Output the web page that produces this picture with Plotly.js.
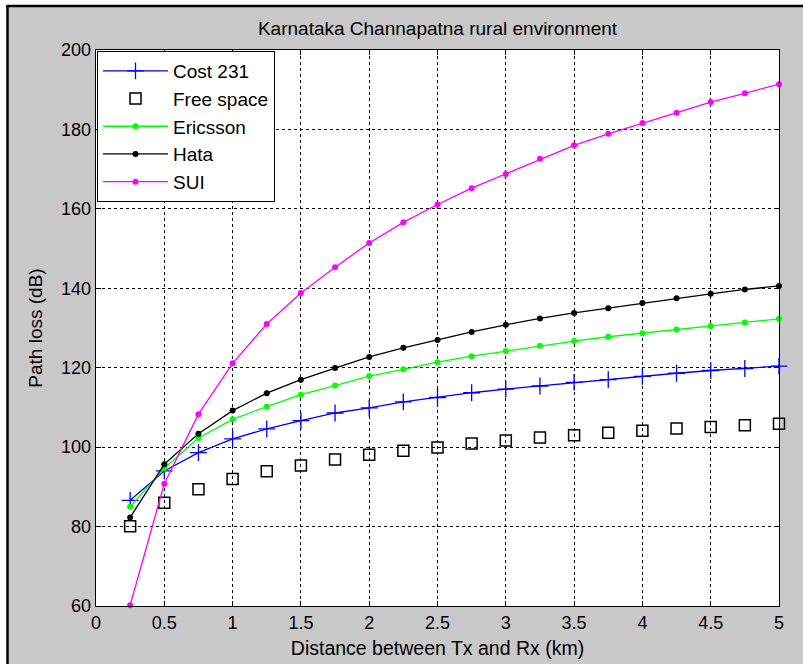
<!DOCTYPE html>
<html>
<head>
<meta charset="utf-8">
<script src="https://cdn.plot.ly/plotly-3.0.1.min.js"></script>
<style>
html, body { margin: 0; padding: 0; background: #ffffff; }
#chart { width: 803px; height: 664px; }
</style>
</head>
<body>
<div id="chart"></div>
<script>
// Distance (km)
var dist = [0.25, 0.5, 0.75, 1, 1.25, 1.5, 1.75, 2, 2.25, 2.5, 2.75, 3, 3.25, 3.5, 3.75, 4, 4.25, 4.5, 4.75, 5];
// Path loss (dB) per model
var cost231   = [86.6, 94.0, 98.6, 102.1, 104.6, 106.7, 108.6, 109.9, 111.4, 112.5, 113.7, 114.6, 115.4, 116.3, 117.0, 117.8, 118.6, 119.3, 119.8, 120.4];
var freeSpace = [80.1, 86.0, 89.4, 92.0, 93.9, 95.4, 96.9, 98.1, 99.1, 99.9, 100.9, 101.7, 102.4, 103.0, 103.6, 104.1, 104.7, 105.1, 105.5, 105.9];
var ericsson  = [85.0, 94.7, 102.3, 107.0, 110.2, 113.2, 115.5, 117.9, 119.6, 121.4, 122.9, 124.2, 125.5, 126.7, 127.8, 128.7, 129.6, 130.5, 131.4, 132.3];
var hata      = [82.3, 95.7, 103.4, 109.2, 113.6, 117.0, 119.9, 122.7, 125.0, 127.0, 129.0, 130.8, 132.4, 133.8, 135.0, 136.3, 137.5, 138.6, 139.7, 140.6];
var sui       = [60.2, 90.8, 108.3, 121.1, 131.0, 138.8, 145.3, 151.4, 156.6, 161.1, 165.2, 168.8, 172.6, 176.0, 178.9, 181.6, 184.2, 186.9, 189.1, 191.4];

var seriesNames = ["Cost 231", "Free space", "Ericsson", "Hata", "SUI"];
var xTicks = [0, 0.5, 1, 1.5, 2, 2.5, 3, 3.5, 4, 4.5, 5];
var yTicks = [60, 80, 100, 120, 140, 160, 180, 200];

var W = 803, H = 664, ML = 96, MR = 24, MT = 50, MB = 58;
var PW = W - ML - MR, PH = H - MT - MB;
function px(x) { return (x - ML) / PW; }
function py(y) { return (H - MB - y) / PH; }

var FONT = "Liberation Sans, Arial, sans-serif";

var traces = [
  { x: dist, y: cost231, name: seriesNames[0], type: "scatter", mode: "lines+markers",
    line: { color: "#0000ff", width: 1.3 },
    marker: { symbol: "cross-thin", size: 12, color: "#0000ff", line: { color: "#0000ff", width: 1.3 } },
    cliponaxis: false },
  { x: dist, y: freeSpace, name: seriesNames[1], type: "scatter", mode: "markers",
    marker: { symbol: "square-open", size: 11, color: "#000000", line: { color: "#000000", width: 1.5 } },
    cliponaxis: false },
  { x: dist, y: ericsson, name: seriesNames[2], type: "scatter", mode: "lines+markers",
    line: { color: "#00ff00", width: 1.3 },
    marker: { symbol: "circle", size: 6, color: "#00ff00" },
    cliponaxis: false },
  { x: dist, y: hata, name: seriesNames[3], type: "scatter", mode: "lines+markers",
    line: { color: "#000000", width: 1.3 },
    marker: { symbol: "circle", size: 6, color: "#000000" },
    cliponaxis: false },
  { x: dist, y: sui, name: seriesNames[4], type: "scatter", mode: "lines+markers",
    line: { color: "#ff00ff", width: 1.3 },
    marker: { symbol: "circle", size: 6, color: "#ff00ff" },
    cliponaxis: false }
];

var axisCommon = {
  showline: true, linecolor: "#000000", linewidth: 1.3, mirror: "ticks",
  ticks: "inside", ticklen: 5, tickwidth: 1, tickcolor: "#000000",
  showgrid: true, gridcolor: "#000000", gridwidth: 1, griddash: "3px,3px",
  zeroline: false, tickfont: { family: FONT, size: 18, color: "#000000" }
};

var layout = {
  width: W, height: H,
  margin: { l: ML, r: MR, t: MT, b: MB, pad: 0 },
  paper_bgcolor: "#c8c8c8", plot_bgcolor: "#ffffff",
  showlegend: true,
  title: { text: "Karnataka Channapatna rural environment",
    font: { family: FONT, size: 19, color: "#000000" },
    xref: "paper", x: 0.5, xanchor: "center", yref: "container", y: 1 - 28 / H, yanchor: "middle" },
  xaxis: Object.assign({}, axisCommon, {
    range: [0, 5], tickmode: "array", tickvals: xTicks,
    title: { text: "Distance between Tx and Rx (km)", font: { family: FONT, size: 19.5, color: "#000000" }, standoff: 9 }
  }),
  yaxis: Object.assign({}, axisCommon, {
    range: [60, 200], tickmode: "array", tickvals: yTicks,
    title: { text: "Path loss (dB)", font: { family: FONT, size: 19, color: "#000000" }, standoff: 13 }
  }),
  legend: {
    x: px(97), y: py(51), xanchor: "left", yanchor: "top",
    bgcolor: "#ffffff", bordercolor: "#000000", borderwidth: 1,
    font: { family: FONT, size: 19, color: "#000000" },
    itemwidth: 65, tracegroupgap: 0
  },
  shapes: [
    { type: "rect", xref: "paper", yref: "paper", x0: px(0), x1: px(W), y0: py(0), y1: py(5), fillcolor: "#ffffff", line: { width: 0 }, layer: "above" },
    { type: "rect", xref: "paper", yref: "paper", x0: px(0), x1: px(7), y0: py(0), y1: py(H), fillcolor: "#ffffff", line: { width: 0 }, layer: "above" },
    { type: "line", xref: "paper", yref: "paper", x0: px(6.5), x1: px(W), y0: py(6), y1: py(6), line: { color: "#000000", width: 2.5 }, layer: "above" },
    { type: "line", xref: "paper", yref: "paper", x0: px(7.5), x1: px(7.5), y0: py(5), y1: py(H), line: { color: "#000000", width: 2.5 }, layer: "above" }
  ]
};

Plotly.newPlot("chart", traces, layout, { displayModeBar: false, staticPlot: true });
</script>
</body>
</html>
